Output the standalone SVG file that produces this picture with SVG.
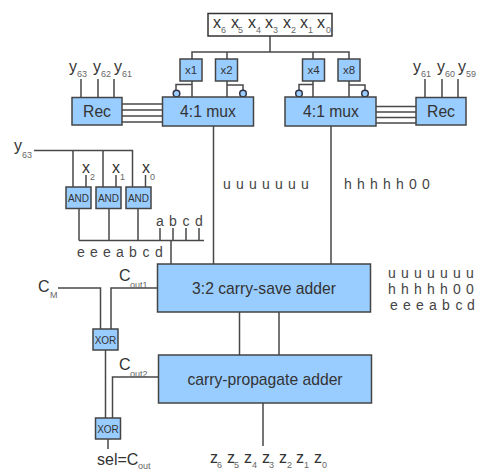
<svg xmlns="http://www.w3.org/2000/svg" width="478" height="470" viewBox="0 0 478 470">
<style>
text{font-family:"Liberation Sans",Arial,sans-serif;fill:#333}
.box{fill:#99ccff;stroke:#444;stroke-width:1.5}
.w{fill:none;stroke:#484848;stroke-width:1.5}
.b{fill:#99ccff;stroke:#334;stroke-width:1.5}
.l{font-size:16px}
.s{font-size:9px;fill:#666}
.sm{font-size:11.5px;text-anchor:middle}
.t{font-size:10px;text-anchor:middle}
.big{font-size:15.7px;text-anchor:middle}
.bits{font-size:14px;text-anchor:middle;fill:#444}
</style>
<rect width="478" height="470" fill="#fff"/>
<g id="connectors">
<path class="w" d="M270 36V52M192 59V52H349V59M227 52V59M313 52V59"/>
<path class="w" d="M192 81V97M176 90V84.500H192M227 81V97M227 85H243V90M313 81V97M299 90V84.500H313M349 81V97M349 85H365V90"/>
<path class="w" d="M122 104H162M122 110H162M122 116H162M122 122H162M376 106.500H416M376 112H416M376 117.500H416M376 123H416"/>
<path class="w" d="M81 79V97M98 79V97M114 79V97M425 79V97M442 79V97M458 79V97"/>
<path class="w" d="M34 150.500H132.500V187M73 150.500V187M103 150.500V187M86 175V187M116 175V187M145.500 175V187"/>
<path class="w" d="M79 208V240.500M109 208V240.500M138 208V240.500M79 240.500H204M160 228V240.500M173 228V240.500M186 228V240.500M199 228V240.500M171 240.500V264"/>
<path class="w" d="M213.500 126V264M331 126V264"/>
<path class="w" d="M239.500 312V355M279 312V355M263 403V446"/>
<path class="w" d="M58 288H100.500V329M157 288H111V329M105.500 350V418M158 377H112.500V418M108 439V449"/>
</g>
<g id="input-x"><rect x="208" y="13.500" width="124" height="22.500" fill="#fff" stroke="#333" stroke-width="1.500"/>
<text class="l" y="28"><tspan x="213">x</tspan><tspan x="231">x</tspan><tspan x="248">x</tspan><tspan x="265">x</tspan><tspan x="283">x</tspan><tspan x="300">x</tspan><tspan x="317">x</tspan></text>
<text class="s" y="33"><tspan x="221">6</tspan><tspan x="238">5</tspan><tspan x="256">4</tspan><tspan x="273">3</tspan><tspan x="291">2</tspan><tspan x="308">1</tspan><tspan x="326">0</tspan></text></g>
<g id="x1"><rect class="box" x="180" y="59" width="22" height="22"/><text class="sm" x="191" y="74">x1</text></g>
<g id="x2"><rect class="box" x="215.500" y="59" width="22" height="22"/><text class="sm" x="226.500" y="74">x2</text></g>
<g id="x4"><rect class="box" x="302.500" y="59" width="22" height="22"/><text class="sm" x="313.500" y="74">x4</text></g>
<g id="x8"><rect class="box" x="338" y="59" width="22" height="22"/><text class="sm" x="349" y="74">x8</text></g>
<g id="bubbles"><circle class="b" cx="176.500" cy="93.500" r="3.300"/><circle class="b" cx="243" cy="93.500" r="3.300"/><circle class="b" cx="299" cy="93.500" r="3.300"/><circle class="b" cx="365" cy="93.500" r="3.300"/></g>
<g id="mux-left"><rect class="box" x="162.500" y="97" width="91" height="29"/><text class="big" x="208" y="117">4:1 mux</text></g>
<g id="mux-right"><rect class="box" x="285" y="97" width="91" height="29"/><text class="big" x="331" y="117">4:1 mux</text></g>
<g id="rec-left"><rect class="box" x="72" y="97.500" width="50" height="27.500"/><text class="big" x="97" y="117">Rec</text></g>
<g id="rec-right"><rect class="box" x="416" y="97.500" width="50" height="27.500"/><text class="big" x="441" y="117">Rec</text></g>
<g id="y-left"><text class="l" y="72"><tspan x="69">y</tspan><tspan x="93">y</tspan><tspan x="114">y</tspan></text><text class="s" y="77"><tspan x="77">63</tspan><tspan x="101">62</tspan><tspan x="122">61</tspan></text></g>
<g id="y-right"><text class="l" y="72"><tspan x="413">y</tspan><tspan x="437">y</tspan><tspan x="458">y</tspan></text><text class="s" y="77"><tspan x="421">61</tspan><tspan x="445">60</tspan><tspan x="466">59</tspan></text></g>
<g id="y63"><text class="l" x="14" y="151">y</text><text class="s" x="22" y="158">63</text></g>
<g id="and-x"><text class="l" y="173"><tspan x="82">x</tspan><tspan x="112">x</tspan><tspan x="142">x</tspan></text><text class="s" y="180"><tspan x="90">2</tspan><tspan x="120">1</tspan><tspan x="150">0</tspan></text></g>
<g id="and0"><rect class="box" x="66" y="187" width="25" height="21.500"/><text class="t" x="78.500" y="201.500">AND</text></g>
<g id="and1"><rect class="box" x="96" y="187" width="25" height="21.500"/><text class="t" x="108.500" y="201.500">AND</text></g>
<g id="and2"><rect class="box" x="126" y="187" width="25" height="21.500"/><text class="t" x="138.500" y="201.500">AND</text></g>
<g id="abcd-labels"><text class="bits" y="226"><tspan x="160">a</tspan><tspan x="173">b</tspan><tspan x="186">c</tspan><tspan x="199">d</tspan></text>
<text class="bits" y="257"><tspan x="81">e</tspan><tspan x="94">e</tspan><tspan x="107">e</tspan><tspan x="120">a</tspan><tspan x="133">b</tspan><tspan x="146">c</tspan><tspan x="159">d</tspan></text></g>
<g id="u-h-labels"><text class="bits" y="189"><tspan x="227">u</tspan><tspan x="240">u</tspan><tspan x="253">u</tspan><tspan x="266">u</tspan><tspan x="279">u</tspan><tspan x="292">u</tspan><tspan x="305">u</tspan></text>
<text class="bits" y="189"><tspan x="348">h</tspan><tspan x="361">h</tspan><tspan x="374">h</tspan><tspan x="387">h</tspan><tspan x="400">h</tspan><tspan x="413">0</tspan><tspan x="426">0</tspan></text></g>
<g id="csa"><rect class="box" x="157.500" y="264" width="213" height="48"/><text class="big" x="264" y="294">3:2 carry-save adder</text></g>
<g id="cpa"><rect class="box" x="158.500" y="355" width="213" height="48"/><text class="big" x="265" y="385">carry-propagate adder</text></g>
<g id="bit-table"><text class="bits" y="278"><tspan x="392">u</tspan><tspan x="405">u</tspan><tspan x="418">u</tspan><tspan x="431">u</tspan><tspan x="444">u</tspan><tspan x="457">u</tspan><tspan x="470">u</tspan></text>
<text class="bits" y="294"><tspan x="392">h</tspan><tspan x="405">h</tspan><tspan x="418">h</tspan><tspan x="431">h</tspan><tspan x="444">h</tspan><tspan x="457">0</tspan><tspan x="470">0</tspan></text>
<text class="bits" y="310"><tspan x="394">e</tspan><tspan x="407">e</tspan><tspan x="420">e</tspan><tspan x="433">a</tspan><tspan x="446">b</tspan><tspan x="459">c</tspan><tspan x="471">d</tspan></text></g>
<g id="cm"><text class="l" x="38" y="292">C</text><text class="s" x="50" y="298">M</text></g>
<g id="cout1"><text class="l" x="119" y="281">C</text><text class="s" x="130" y="288">out1</text></g>
<g id="cout2"><text class="l" x="119" y="370">C</text><text class="s" x="130" y="377">out2</text></g>
<g id="xor1"><rect class="box" x="93" y="329" width="25" height="21"/><text class="t" x="105.500" y="343.500">XOR</text></g>
<g id="xor2"><rect class="box" x="95.500" y="418" width="25" height="21"/><text class="t" x="108" y="432.500">XOR</text></g>
<g id="sel"><text class="l" x="97" y="465">sel=C</text><text class="s" x="138" y="468.500">out</text></g>
<g id="z"><text class="l" y="463"><tspan x="210">z</tspan><tspan x="227">z</tspan><tspan x="244">z</tspan><tspan x="262">z</tspan><tspan x="279">z</tspan><tspan x="296">z</tspan><tspan x="314">z</tspan></text>
<text class="s" y="468"><tspan x="217">6</tspan><tspan x="234">5</tspan><tspan x="252">4</tspan><tspan x="269">3</tspan><tspan x="287">2</tspan><tspan x="304">1</tspan><tspan x="322">0</tspan></text></g>
</svg>
